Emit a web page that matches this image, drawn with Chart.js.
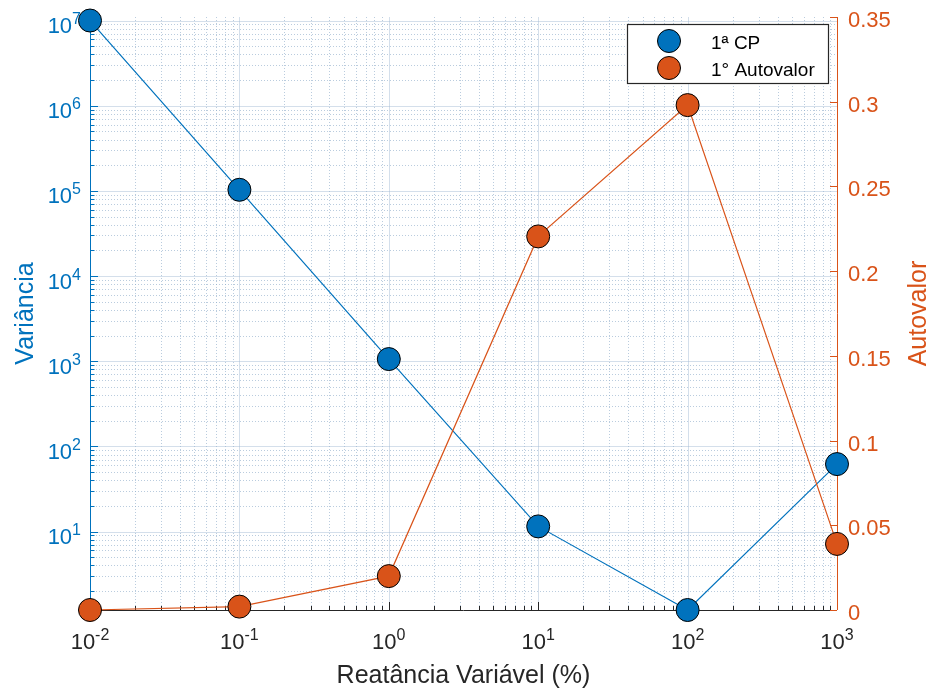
<!DOCTYPE html>
<html>
<head>
<meta charset="utf-8">
<script src="https://cdn.jsdelivr.net/npm/chart.js@4.4.1/dist/chart.umd.min.js"></script>
<style>
  html, body { margin: 0; padding: 0; background: #ffffff; }
  #wrap { width: 932px; height: 691px; position: relative; }
</style>
</head>
<body>
<div id="wrap"><canvas id="c" width="932" height="691"></canvas></div>
<script>
// Reactance sweep (%) and the two measured quantities
const reactance = [0.01, 0.1, 1, 10, 100, 1000];
const variance = [1.0e7, 1.03e5, 1.06e3, 11.5, 1.2, 62];
const eigenvalue = [0, 0.002, 0.02, 0.2205, 0.298, 0.039];

// Axis ticks
const xTickExponents = [-2, -1, 0, 1, 2, 3];
const yTickExponents = [1, 2, 3, 4, 5, 6, 7];
const y2TickValues = [0, 0.05, 0.1, 0.15, 0.2, 0.25, 0.3, 0.35];
const y2TickLabels = ['0', '0.05', '0.1', '0.15', '0.2', '0.25', '0.3', '0.35'];

// Labels
const seriesLabels = ['1ª CP', '1° Autovalor'];
const xTitle = 'Reatância Variável (%)';
const yTitle = 'Variância';
const y2Title = 'Autovalor';

const BLUE = '#0072BD';
const ORANGE = '#D95319';
const AXIS_GRAY = '#262626';
const FONT = '"Liberation Sans", Arial, Helvetica, sans-serif';

function px(v) { return Math.round(v) + 0.5; }

// 10^n label with a raised exponent
function drawPower(ctx, exp, x, baseline, align, color) {
  const base = '10', sup = String(exp).replace('-', '\u2212').replace('\u2212', '-');
  ctx.font = '22px ' + FONT;
  const wb = ctx.measureText(base).width;
  ctx.font = '16px ' + FONT;
  const ws = ctx.measureText(sup).width;
  const total = wb + ws;
  let x0 = align === 'center' ? x - total / 2 : (align === 'right' ? x - total : x);
  ctx.fillStyle = color;
  ctx.textAlign = 'left';
  ctx.textBaseline = 'alphabetic';
  ctx.font = '22px ' + FONT;
  ctx.fillText(base, x0, baseline);
  ctx.font = '16px ' + FONT;
  ctx.fillText(sup, x0 + wb, baseline - 9);
}

const axesPlugin = {
  id: 'matlabAxes',
  beforeDatasetsDraw(chart) {
    const ctx = chart.ctx;
    const a = chart.chartArea;
    const xs = chart.scales.x, ys = chart.scales.y, y2 = chart.scales.y2;
    ctx.save();
    ctx.beginPath();
    ctx.rect(a.left, a.top, a.right - a.left, a.bottom - a.top);
    ctx.clip();
    ctx.lineWidth = 1;
    // vertical grid (log decades + minors)
    for (let e = xTickExponents[0]; e <= xTickExponents[xTickExponents.length - 1]; e++) {
      for (let k = 1; k <= 9; k++) {
        const v = k * Math.pow(10, e);
        if (v < xs.min * 0.999 || v > xs.max * 1.001) continue;
        const X = px(xs.getPixelForValue(v));
        ctx.beginPath();
        if (k === 1) { ctx.setLineDash([]); ctx.strokeStyle = 'rgba(160,185,210,0.45)'; }
        else { ctx.setLineDash([1, 2]); ctx.strokeStyle = 'rgba(140,170,200,0.6)'; }
        ctx.moveTo(X, a.top); ctx.lineTo(X, a.bottom); ctx.stroke();
      }
    }
    // horizontal grid (log decades + minors)
    for (let e = 0; e <= 7; e++) {
      for (let k = 1; k <= 9; k++) {
        const v = k * Math.pow(10, e);
        if (v < ys.min || v > ys.max) continue;
        const Y = px(ys.getPixelForValue(v));
        ctx.beginPath();
        if (k === 1) { ctx.setLineDash([]); ctx.strokeStyle = 'rgba(160,185,210,0.45)'; }
        else { ctx.setLineDash([1, 2]); ctx.strokeStyle = 'rgba(140,170,200,0.6)'; }
        ctx.moveTo(a.left, Y); ctx.lineTo(a.right, Y); ctx.stroke();
      }
    }
    ctx.restore();

    ctx.save();
    ctx.setLineDash([]);
    ctx.lineWidth = 1;
    // bottom axis
    ctx.strokeStyle = AXIS_GRAY;
    ctx.beginPath();
    ctx.moveTo(a.left, px(a.bottom)); ctx.lineTo(a.right, px(a.bottom)); ctx.stroke();
    for (let e = xTickExponents[0]; e <= xTickExponents[xTickExponents.length - 1]; e++) {
      for (let k = 1; k <= 9; k++) {
        const v = k * Math.pow(10, e);
        if (v < xs.min * 0.999 || v > xs.max * 1.001) continue;
        const X = px(xs.getPixelForValue(v));
        const len = k === 1 ? 8 : 4;
        ctx.beginPath(); ctx.moveTo(X, a.bottom); ctx.lineTo(X, a.bottom - len); ctx.stroke();
      }
    }
    // left axis
    ctx.strokeStyle = BLUE;
    ctx.beginPath();
    ctx.moveTo(px(a.left), a.top); ctx.lineTo(px(a.left), a.bottom); ctx.stroke();
    for (let e = 0; e <= 7; e++) {
      for (let k = 1; k <= 9; k++) {
        const v = k * Math.pow(10, e);
        if (v < ys.min || v > ys.max) continue;
        const Y = px(ys.getPixelForValue(v));
        const len = k === 1 ? 8 : 4.5;
        ctx.beginPath(); ctx.moveTo(a.left, Y); ctx.lineTo(a.left + len, Y); ctx.stroke();
      }
    }
    // right axis
    ctx.strokeStyle = ORANGE;
    ctx.beginPath();
    ctx.moveTo(px(a.right), a.top); ctx.lineTo(px(a.right), a.bottom); ctx.stroke();
    y2TickValues.forEach(v => {
      const Y = px(y2.getPixelForValue(v));
      ctx.beginPath(); ctx.moveTo(a.right, Y); ctx.lineTo(a.right - 7, Y); ctx.stroke();
    });
    ctx.restore();
  },
  afterDraw(chart) {
    const ctx = chart.ctx;
    const a = chart.chartArea;
    const xs = chart.scales.x, ys = chart.scales.y, y2 = chart.scales.y2;
    ctx.save();
    // tick labels
    xTickExponents.forEach(e => {
      drawPower(ctx, e, xs.getPixelForValue(Math.pow(10, e)), 649, 'center', AXIS_GRAY);
    });
    yTickExponents.forEach(e => {
      drawPower(ctx, e, 81, ys.getPixelForValue(Math.pow(10, e)) + 12.5, 'right', BLUE);
    });
    ctx.font = '22px ' + FONT;
    ctx.fillStyle = ORANGE;
    ctx.textAlign = 'left';
    ctx.textBaseline = 'alphabetic';
    y2TickValues.forEach((v, i) => {
      ctx.fillText(y2TickLabels[i], a.right + 11, y2.getPixelForValue(v) + 10);
    });
    // axis titles
    const cy = (a.top + a.bottom) / 2;
    ctx.font = '25px ' + FONT;
    ctx.textAlign = 'center';
    ctx.fillStyle = AXIS_GRAY;
    ctx.fillText(xTitle, (a.left + a.right) / 2, 683);
    ctx.save();
    ctx.translate(33, cy);
    ctx.rotate(-Math.PI / 2);
    ctx.fillStyle = BLUE;
    ctx.fillText(yTitle, 0, 0);
    ctx.restore();
    ctx.save();
    ctx.translate(926, cy);
    ctx.rotate(-Math.PI / 2);
    ctx.fillStyle = ORANGE;
    ctx.fillText(y2Title, 0, 0);
    ctx.restore();

    // legend
    const lx = 627.5, ly = 24.5, lw = 201, lh = 59;
    ctx.fillStyle = '#ffffff';
    ctx.fillRect(lx, ly, lw, lh);
    ctx.strokeStyle = AXIS_GRAY;
    ctx.lineWidth = 1.2;
    ctx.strokeRect(lx, ly, lw, lh);
    const rows = [41, 68];
    chart.data.datasets.forEach((ds, i) => {
      ctx.beginPath();
      ctx.arc(669, rows[i], 11.5, 0, Math.PI * 2);
      ctx.fillStyle = ds.pointBackgroundColor;
      ctx.fill();
      ctx.lineWidth = 1;
      ctx.strokeStyle = '#000000';
      ctx.stroke();
      ctx.font = '19px ' + FONT;
      ctx.fillStyle = '#000000';
      ctx.textAlign = 'left';
      ctx.textBaseline = 'alphabetic';
      ctx.fillText(ds.label, 711, rows[i] + 7.5);
    });
    ctx.restore();
  }
};

const hidden = { ticks: { display: false }, grid: { display: false }, border: { display: false } };

new Chart(document.getElementById('c'), {
  type: 'line',
  data: {
    datasets: [
      {
        label: seriesLabels[0],
        data: reactance.map((x, i) => ({ x, y: variance[i] })),
        yAxisID: 'y',
        borderColor: BLUE,
        backgroundColor: BLUE,
        pointBackgroundColor: BLUE,
        pointBorderColor: '#000000',
        pointBorderWidth: 1,
        pointRadius: 11.5,
        borderWidth: 1.2,
        tension: 0,
        clip: false,
        order: 2
      },
      {
        label: seriesLabels[1],
        data: reactance.map((x, i) => ({ x, y: eigenvalue[i] })),
        yAxisID: 'y2',
        borderColor: ORANGE,
        backgroundColor: ORANGE,
        pointBackgroundColor: ORANGE,
        pointBorderColor: '#000000',
        pointBorderWidth: 1,
        pointRadius: 11.5,
        borderWidth: 1.2,
        tension: 0,
        clip: false,
        order: 1
      }
    ]
  },
  options: {
    responsive: false,
    animation: false,
    devicePixelRatio: 1,
    layout: { padding: { top: 17, left: 0, right: 0, bottom: 0 }, autoPadding: false },
    plugins: { legend: { display: false }, tooltip: { enabled: false } },
    events: [],
    scales: {
      x: Object.assign({ type: 'logarithmic', position: 'bottom', min: 0.01, max: 1000,
        afterFit(s) { s.height = 81; } }, hidden),
      y: Object.assign({ type: 'logarithmic', position: 'left', min: 1.2, max: 1.1e7,
        afterFit(s) { s.width = 90; } }, hidden),
      y2: Object.assign({ type: 'linear', position: 'right', min: 0, max: 0.35,
        afterFit(s) { s.width = 95; } }, hidden)
    }
  },
  plugins: [axesPlugin]
});
</script>
</body>
</html>
